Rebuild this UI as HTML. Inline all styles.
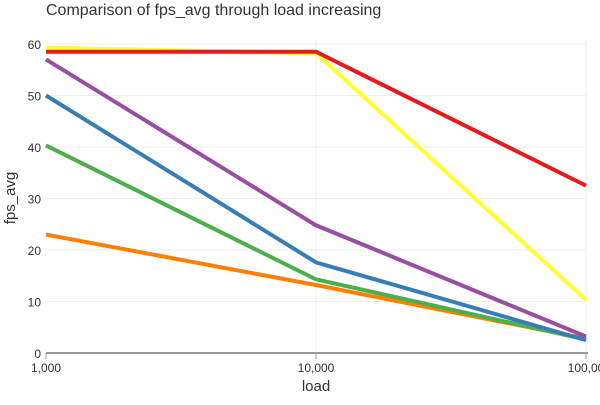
<!DOCTYPE html>
<html><head><meta charset="utf-8"><style>
body{margin:0;background:#fff;font-family:"Liberation Sans",sans-serif}
svg text{font-family:"Liberation Sans",sans-serif}
</style></head><body>
<svg id="c" width="600" height="400">
<text x="46" y="15" font-size="16" fill="#333">Comparison of fps_avg through load increasing</text>
<g id="grid"></g><g id="lines"></g><g id="axes"></g>
<text x="316" y="391" font-size="15" fill="#333" text-anchor="middle">load</text>
<text transform="translate(15,198) rotate(-90)" font-size="15" fill="#333" text-anchor="middle">fps_avg</text>
</svg>
<script>
const loads=[1000,10000,100000];
const xTicks=["1,000","10,000","100,00"];
const yTicks=[0,10,20,30,40,50,60];
const red=[58.5,58.5,32.5];
const yellow=[59.3,58.2,10.3];
const purple=[57,24.8,3.2];
const blue=[50,17.6,2.5];
const green=[40.3,14.3,2.6];
const orange=[23,13.2,2.8];
const series=[[orange,"#ff7f00","orange"],[green,"#4daf4a","green"],[blue,"#377eb8","blue"],[purple,"#984ea3","purple"],[yellow,"#ffff33","yellow"],[red,"#e41a1c","red"]];
const NS="http://www.w3.org/2000/svg";
const x=v=>46+(Math.log10(v)-3)*270;
const y=v=>353-v*(309/60);
const mk=(p,t,a)=>{const e=document.createElementNS(NS,t);for(const k in a)e.setAttribute(k,a[k]);document.getElementById(p).appendChild(e);return e;};
yTicks.forEach(t=>{
 if(t>0){const g=mk("grid","line",{x1:46,x2:586,y1:y(t),y2:y(t),stroke:"#eee"});
 
 }
 const l=mk("axes","text",{x:41,y:y(t)+5,"font-size":12,fill:"#333","text-anchor":"end"});l.textContent=t;
 
 
});
loads.forEach((v,i)=>{
 if(i>0){const g=mk("grid","line",{x1:x(v),x2:x(v),y1:40,y2:353,stroke:"#eee"});
 
 }
 const tk=mk("axes","line",{x1:x(v),x2:x(v),y1:353,y2:359,stroke:"#999"});
 
 
 const l=mk("axes","text",{x:x(v),y:372,"font-size":12,fill:"#333","text-anchor":"middle"});l.textContent=xTicks[i];
 
 
});
const ax=mk("axes","line",{x1:46,x2:588,y1:353,y2:353,stroke:"#999","stroke-width":2});


series.forEach(([d,c,n])=>{
 const p=mk("lines","polyline",{points:d.map((v,i)=>x(loads[i])+","+y(v)).join(" "),fill:"none",stroke:c,"stroke-width":4});
 
 
});
</script>
</body></html>
